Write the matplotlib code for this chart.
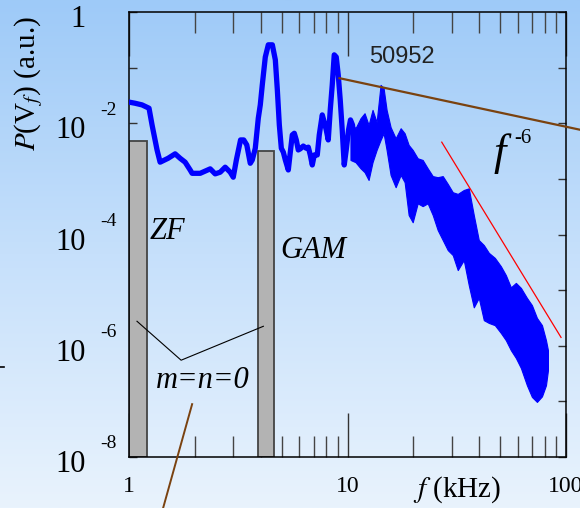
"""Potential-fluctuation spectrum P(V_f) vs f, shot 50952, with ZF / GAM bars."""

import numpy as np
import matplotlib
matplotlib.use("Agg")
import matplotlib.pyplot as plt
from matplotlib.colors import LinearSegmentedColormap
from matplotlib.lines import Line2D

plt.rcParams["font.family"] = ["Liberation Serif", "DejaVu Serif"]
plt.rcParams["mathtext.fontset"] = "stix"

# spectrum, low-frequency part (f in kHz, log10 of power)
spec_f = [1.00, 1.065, 1.147, 1.235, 1.275, 1.344, 1.388, 1.51, 1.626, 1.714,
          1.807, 1.905, 1.945, 2.117, 2.232, 2.353, 2.479, 2.614, 2.756, 2.906,
          3.00, 3.10, 3.24, 3.35, 3.46, 3.589, 3.666, 3.784, 3.906, 3.989,
          4.074, 4.205, 4.341, 4.529, 4.674, 4.774, 4.875, 4.979, 5.085, 5.193,
          5.359, 5.473, 5.589, 5.708, 5.829, 5.953, 6.08, 6.275, 6.477, 6.615,
          6.755, 6.899, 7.046, 7.272, 7.426, 7.665, 7.828, 7.994, 8.164, 8.338,
          8.515, 8.696, 8.881, 9.07, 9.262, 9.459, 9.661, 9.866, 10.11, 10.32,
          10.54, 10.76, 10.99, 11.23, 11.47]
spec_logp = [-1.62, -1.64, -1.67, -1.73, -2.03, -2.48, -2.70, -2.63, -2.55, -2.63,
             -2.70, -2.84, -2.90, -2.90, -2.86, -2.82, -2.91, -2.88, -2.79, -2.88,
             -2.97, -2.66, -2.30, -2.30, -2.39, -2.72, -2.66, -2.45, -1.91, -1.67,
             -1.31, -0.81, -0.59, -0.59, -0.86, -1.40, -2.03, -2.45, -2.52, -2.66,
             -2.84, -2.52, -2.21, -2.18, -2.30, -2.48, -2.46, -2.41, -2.45, -2.43,
             -2.57, -2.75, -2.57, -2.57, -2.21, -1.85, -1.98, -2.12, -2.30, -1.76,
             -1.31, -0.77, -0.81, -1.13, -1.58, -2.12, -2.75, -2.48, -2.12, -1.94,
             -2.03, -2.39, -2.57, -2.48, -2.63]

# spectrum, noisy high-frequency part: upper / lower envelope
band_f = [10.32, 10.88, 11.47, 11.97, 12.49, 13.02, 13.59, 14.17, 14.63, 15.10,
          15.75, 16.61, 17.51, 18.26, 19.05, 19.88, 20.95, 22.08, 23.28, 24.55,
          25.87, 27.28, 28.76, 30.32, 31.96, 34.05, 35.89, 37.84, 39.89, 42.06,
          44.35, 47.24, 50.33, 53.05, 55.94, 58.97, 62.17, 66.24, 69.82, 73.62,
          77.62, 80.97, 82.68]
band_hi = [-1.98, -2.09, -1.91, -1.82, -2.03, -1.76, -1.98, -1.31, -1.37, -1.76,
           -2.07, -2.27, -2.09, -2.18, -2.39, -2.48, -2.63, -2.66, -2.81, -2.95,
           -2.97, -2.95, -3.09, -3.24, -3.27, -3.20, -3.17, -3.65, -4.10, -4.19,
           -4.33, -4.42, -4.57, -4.73, -4.95, -4.87, -4.96, -5.14, -5.27, -5.50,
           -5.63, -5.90, -6.08]
band_lo = [-2.66, -2.70, -2.81, -2.88, -3.02, -2.70, -2.48, -2.30, -2.18, -2.48,
           -2.93, -3.15, -2.93, -3.06, -3.65, -3.78, -3.44, -3.49, -3.44, -3.65,
           -3.92, -4.10, -4.28, -4.37, -4.64, -4.46, -4.91, -5.31, -5.14, -5.54,
           -5.59, -5.63, -5.77, -5.90, -6.08, -6.22, -6.40, -6.71, -6.92, -7.01,
           -6.91, -6.71, -6.44]

# m=n=0 bars (ZF, GAM): frequency range and height
bar_names = ["ZF", "GAM"]
bar_lo = [1.0, 3.91]
bar_hi = [1.21, 4.63]
bar_top = [4.8e-3, 3.2e-3]

# guide lines
brown1_f, brown1_logp = [9.19, 117.0], [-1.19, -2.12]
brown2_f, brown2_logp = [1.945, 1.432], [-7.05, -8.92]
red_f, red_logp = [27.0, 94.9], [-2.34, -5.85]
ptr_f, ptr_logp = [1.088, 1.732, 4.12], [-5.56, -6.26, -5.65]

W, H = 580, 508
fig = plt.figure(figsize=(W / 100, H / 100), dpi=100)

# vertical blue gradient background
bg = fig.add_axes([0, 0, 1, 1], zorder=-10)
cmap = LinearSegmentedColormap.from_list("bg", ["#e9f3fd", "#c6e0fb", "#9ecaf8"])
bg.imshow(np.linspace(0, 1, 256).reshape(-1, 1), aspect="auto", cmap=cmap,
          origin="lower", extent=[0, 1, 0, 1])
bg.set_axis_off()

ax = fig.add_axes([129 / W, 1 - 457 / H, 437 / W, 445 / H])
ax.set_facecolor("none")
ax.set_xscale("log")
ax.set_yscale("log")
ax.set_xlim(1, 100)
ax.set_ylim(1e-8, 1)

ax.bar(bar_lo, np.array(bar_top) - 1e-8, width=np.array(bar_hi) - np.array(bar_lo),
       bottom=1e-8, align="edge", color="#b3b3b3", edgecolor="#444444", lw=1.3, zorder=2)

ax.fill_between(band_f, 10 ** np.array(band_hi), 10 ** np.array(band_lo),
                color="#0000ff", lw=0.8, zorder=3)
ax.plot(spec_f, 10 ** np.array(spec_logp), color="#0000ff", lw=3.8,
        solid_joinstyle="round", zorder=3)

ax.plot(brown1_f, 10 ** np.array(brown1_logp), color="#7a4210", lw=1.6, clip_on=False, zorder=4)
ax.plot(brown2_f, 10 ** np.array(brown2_logp), color="#7a4210", lw=1.4, clip_on=False, zorder=4)
ax.plot(red_f, 10 ** np.array(red_logp), color="#ff0000", lw=0.9, zorder=4)
ax.plot(ptr_f, 10 ** np.array(ptr_logp), color="black", lw=0.8, zorder=4)

for s in ax.spines.values():
    s.set_linewidth(1.1)

ax.xaxis.set_major_locator(matplotlib.ticker.FixedLocator([1, 10, 100]))
ax.xaxis.set_minor_locator(matplotlib.ticker.LogLocator(base=10, subs=np.arange(2, 10)))
ax.xaxis.set_major_formatter(matplotlib.ticker.FixedFormatter(["1", "10", "100"]))
ax.xaxis.set_minor_formatter(matplotlib.ticker.NullFormatter())
ax.tick_params(axis="x", which="major", direction="in", length=32, width=1.0,
               top=True, labelsize=17, pad=14, color="#333333")
ax.tick_params(axis="x", which="minor", direction="in", length=15, width=1.0,
               top=True, color="#444444")

ax.set_yticks([10.0 ** e for e in range(-8, 1)])
ax.yaxis.set_minor_locator(matplotlib.ticker.NullLocator())
ax.tick_params(axis="y", which="major", direction="in", length=5.5, width=1.0,
               right=True, labelleft=False, color="#333333")

# y tick labels: "10" with a detached superscript
for e in range(-8, 1, 2):
    base = "1" if e == 0 else "10"
    ax.annotate(base, xy=(0, 10.0 ** e), xycoords=("axes fraction", "data"),
                xytext=(-31, -5.5), textcoords="offset points",
                ha="right", va="center", fontsize=22)
    if e != 0:
        ax.annotate(str(e), xy=(0, 10.0 ** e), xycoords=("axes fraction", "data"),
                    xytext=(-21, 9.5), textcoords="offset points",
                    ha="left", va="center", fontsize=14)

ax.text(0.087, 0.506, "ZF", transform=ax.transAxes, style="italic",
        fontsize=22, ha="center", va="center")
ax.text(0.421, 0.463, "GAM", transform=ax.transAxes, style="italic",
        fontsize=22, ha="center", va="center")
ax.text(0.169, 0.173, "m=n=0", transform=ax.transAxes, style="italic",
        fontsize=22, ha="center", va="center")
ax.text(0.625, 0.899, "50952", transform=ax.transAxes,
        family=["Liberation Sans Narrow", "DejaVu Sans Condensed", "Liberation Sans"],
        stretch="condensed", fontsize=17, color="#222222", ha="center", va="center")
ax.text(0.849, 0.681, "f", transform=ax.transAxes, style="italic",
        fontsize=32, ha="center", va="center")
ax.text(0.902, 0.715, "-6", transform=ax.transAxes, fontsize=15,
        ha="center", va="center")

fig.text(457 / W, 1 - 490 / H, "$f$ (kHz)", fontsize=21, ha="center", va="center")
fig.text(29 / W, 1 - 83 / H, r"$P$(V$_f$) (a.u.)", fontsize=21, rotation=90,
         ha="center", va="center")
fig.add_artist(Line2D([0, 4 / W], [1 - 367 / H] * 2, color="black", lw=1.2))

fig.savefig("out.png", dpi=100)
